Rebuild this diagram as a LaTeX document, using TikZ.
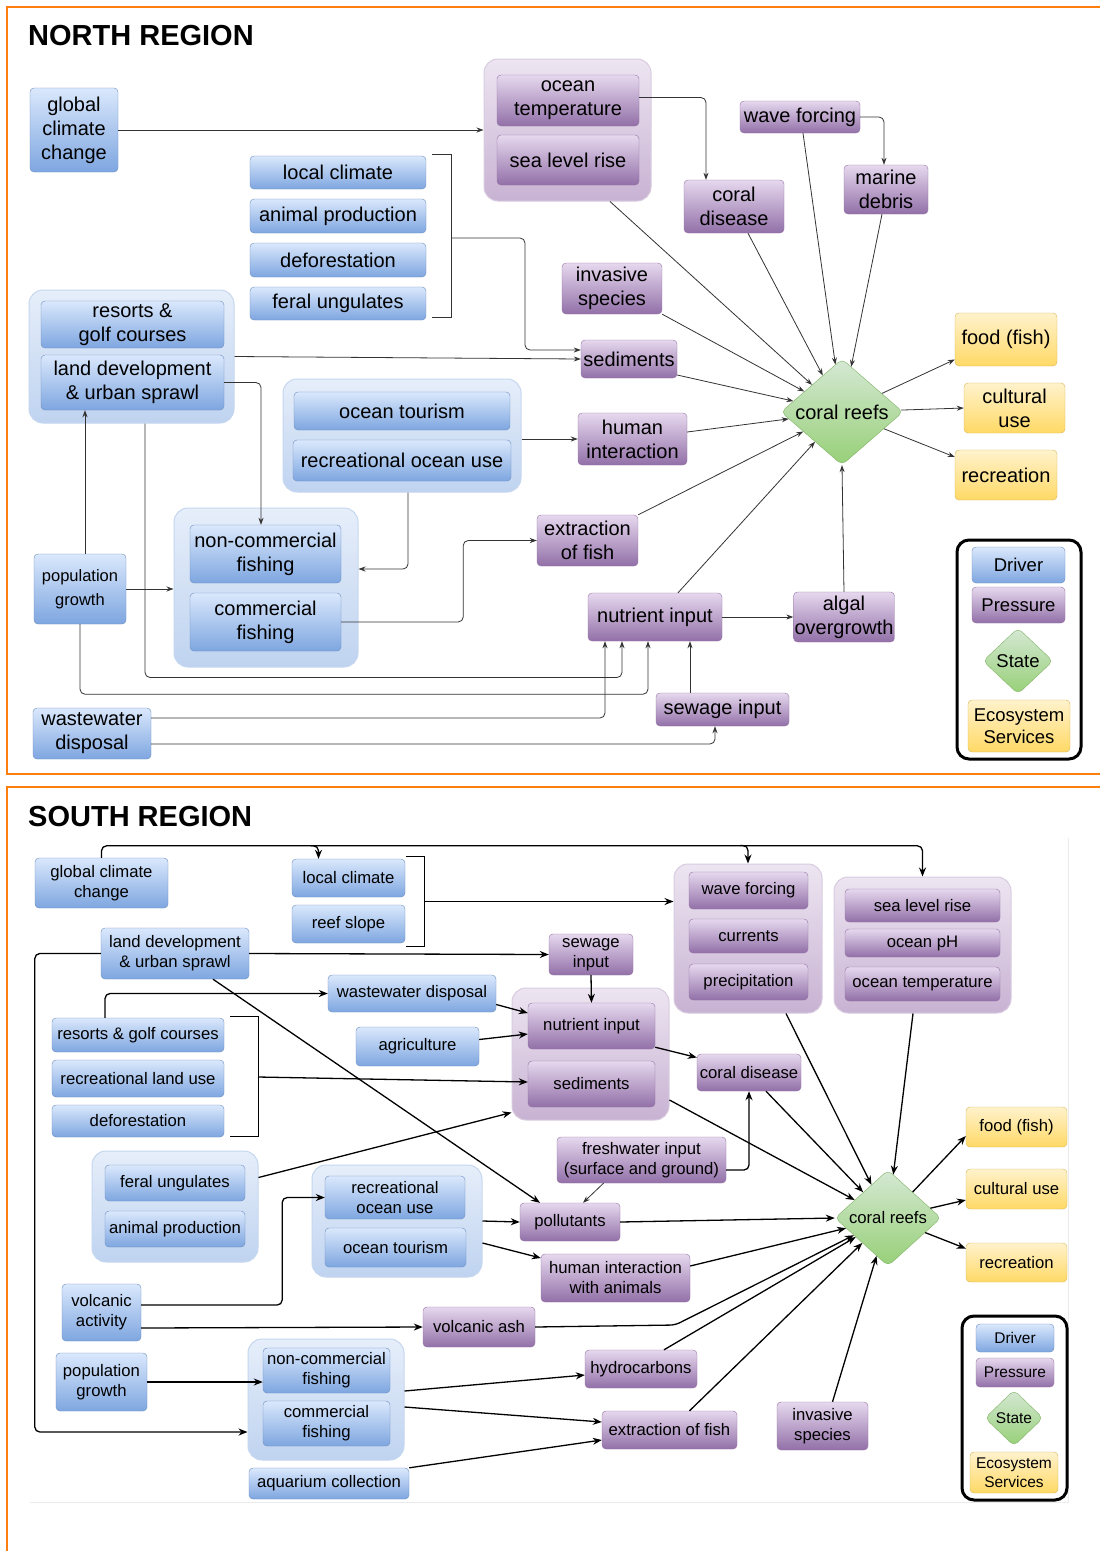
\documentclass[tikz,border=0pt]{standalone}
\usepackage{fontspec}
\setmainfont{Liberation Sans}
\usetikzlibrary{arrows.meta,shapes.geometric,calc}

\definecolor{drvTop}{HTML}{DAE8FC}
\definecolor{drvBot}{HTML}{7EA6E0}
\definecolor{drvLine}{HTML}{6C8EBF}
\definecolor{prTop}{HTML}{E6D8EE}
\definecolor{prBot}{HTML}{9270A8}
\definecolor{prLine}{HTML}{9673A6}
\definecolor{stTop}{HTML}{D5E8D4}
\definecolor{stBot}{HTML}{97D077}
\definecolor{stLine}{HTML}{82B366}
\definecolor{esTop}{HTML}{FFF2CC}
\definecolor{esBot}{HTML}{FFD966}
\definecolor{esLine}{HTML}{D6B656}
\definecolor{dgTop}{HTML}{E6EEFA}
\definecolor{dgBot}{HTML}{BFD3F0}
\definecolor{dgLine}{HTML}{C6D7F0}
\definecolor{pgTop}{HTML}{EDE5F1}
\definecolor{pgBot}{HTML}{C8B2D3}
\definecolor{pgLine}{HTML}{D9CCE0}
\definecolor{frameOr}{HTML}{FF7F0E}

\tikzset{
 box/.style={rounded corners=4pt, inner sep=1pt, align=center, text=black},
 drv/.style={box, draw=drvLine, top color=drvTop, bottom color=drvBot},
 prs/.style={box, draw=prLine, top color=prTop, bottom color=prBot},
 ess/.style={box, draw=esLine, top color=esTop, bottom color=esBot},
 stt/.style={shape=diamond, draw=stLine, top color=stTop, bottom color=stBot, inner sep=0pt, rounded corners=5pt},
 dgrp/.style={rounded corners=14pt, draw=dgLine, top color=dgTop, bottom color=dgBot, line width=1pt},
 pgrp/.style={rounded corners=14pt, draw=pgLine, top color=pgTop, bottom color=pgBot, line width=1pt},
 legbox/.style={draw=black, line width=3pt, rounded corners=12pt},
 nf/.style={font=\fontsize{20}{24}\selectfont},
 sf/.style={font=\fontsize{16.7}{20}\selectfont},
 lf/.style={font=\fontsize{18.5}{22.5}\selectfont},
 lsf/.style={font=\fontsize{15.5}{19}\selectfont},
 sz/.style 2 args={minimum width=#1, minimum height=#2},
 narr/.style={draw=black!80, line width=0.8pt, -{Stealth[length=7pt,width=5pt]}},
 nln/.style={draw=black!80, line width=0.8pt},
 sarr/.style={draw=black, line width=1.3pt, -{Stealth[length=9pt,width=7pt]}},
 sln/.style={draw=black, line width=1.3pt},
 rc/.style={rounded corners=5pt},
}

\begin{document}
\begin{tikzpicture}[x=1pt,y=-1pt]
\useasboundingbox (0,0) rectangle (1100,1551);
\fill[white] (0,0) rectangle (1100,1551);

% frames
\draw[frameOr, line width=2.5pt] (1100,7) -- (7,7) -- (7,774) -- (1100,774);
\draw[frameOr, line width=2.5pt] (1100,787) -- (7,787) -- (7,1551);
\draw[black!8, line width=1pt] (30,1502) -- (1068,1502) -- (1068,838);

\node[font=\fontsize{29}{32}\selectfont\bfseries, anchor=west, inner sep=0pt] (tN) at (28,36) {NORTH REGION};
\node[font=\fontsize{29}{32}\selectfont\bfseries, anchor=west, inner sep=0pt] (tS) at (28,817) {SOUTH REGION};

% ================= NORTH =================
\node[drv,nf,sz={88}{84}] (gcc) at (74,130) {global\\climate\\change};
\node[pgrp,sz={167}{142}] (ogrp) at (567.5,130) {};
\node[prs,nf,sz={142}{51}] (otemp) at (568,100.5) {ocean\\temperature};
\node[prs,nf,sz={142}{50}] (slr) at (568,160) {sea level rise};
\node[drv,nf,sz={176}{33}] (lc) at (338,172.5) {local climate};
\node[drv,nf,sz={176}{34}] (ap) at (338,216) {animal production};
\node[drv,nf,sz={176}{34}] (dfo) at (338,260) {deforestation};
\node[drv,nf,sz={176}{33}] (fu) at (338,303.5) {feral ungulates};
\node[prs,nf,sz={120}{32}] (wf) at (800,117) {wave forcing};
\node[prs,nf,sz={100}{53}] (cd) at (734,206.5) {coral\\disease};
\node[prs,nf,sz={84}{49}] (md) at (886,189.5) {marine\\debris};
\node[prs,nf,sz={100}{51}] (inv) at (612,288.5) {invasive\\species};
\node[prs,nf,sz={96}{38}] (sed) at (629,359) {sediments};
\node[dgrp,sz={205}{133}] (rgrp) at (131.5,356.5) {};
\node[drv,nf,sz={183}{47}] (rgc) at (132.5,324.5) {resorts \&\\golf courses};
\node[drv,nf,sz={183}{55}] (ld) at (132.5,382.5) {land development\\\& urban sprawl};
\node[dgrp,sz={238}{113}] (otgrp) at (402,435.5) {};
\node[drv,nf,sz={216}{38}] (ot) at (402,411) {ocean tourism};
\node[drv,nf,sz={218}{41}] (rou) at (402,460.5) {recreational ocean use};
\node[prs,nf,sz={109}{52}] (hi) at (632.5,439) {human\\interaction};
\node[stt,sz={122}{106}] (cr) at (842,412) {};
\node[nf] (crT) at (cr) {coral reefs};
\node[ess,nf,sz={102}{53}] (food) at (1006,339.5) {food (fish)};
\node[ess,nf,sz={101}{50}] (cu) at (1014.5,408) {cultural\\use};
\node[ess,nf,sz={102}{50}] (rec) at (1006,475) {recreation};
\node[prs,nf,sz={101}{51}] (ef) at (587.5,540.5) {extraction\\of fish};
\node[dgrp,sz={184}{159}] (fgrp) at (266,587.5) {};
\node[drv,nf,sz={151}{58}] (ncf) at (265.5,554) {non-commercial\\fishing};
\node[drv,nf,sz={151}{58}] (cf) at (265.5,622) {commercial\\fishing};
\node[drv,font=\fontsize{16.5}{24}\selectfont,sz={92}{70}] (pg) at (80,589) {population\\growth};
\node[prs,nf,sz={134}{48}] (ni) at (655,617) {nutrient input};
\node[prs,nf,sz={100}{50}] (ao) at (844,617) {algal\\overgrowth};
\node[prs,nf,sz={133}{33}] (si) at (722.5,709.5) {sewage input};
\node[drv,nf,sz={118}{51}] (wd) at (92,733.5) {wastewater\\disposal};

% legend north
\node[legbox,sz={124}{219}] (legN) at (1019,649.5) {};
\node[drv,lf,sz={93}{36}] (lgD) at (1018.5,565) {Driver};
\node[prs,lf,sz={93}{36}] (lgP) at (1018.5,605) {Pressure};
\node[stt,sz={70}{66}] (lgS) at (1018,661) {};
\node[lf] (lgST) at (lgS) {State};
\node[ess,lf,sz={102}{52}] (lgE) at (1019,726) {Ecosystem\\Services};

% north connectors
\draw[narr] (gcc.east) -- (ogrp.west);
\draw[narr,rc] ($(otemp.east)+(0,-3)$) -| ($(cd.north)+(-28,0)$);
\draw[narr,rc] (wf.east) -| ($(md.north)+(-2,0)$);
\draw[nln] ($(lc.north east)+(6,-1)$) -| ($(fu.south east)+(25,-3)$) -- ++(-19,0);
\coordinate (brN) at (451,238);
\draw[narr,rc] (brN) -- ++(74,0) |- ($(sed.west)+(0,-9)$);
\draw[narr] (rgrp.east) -- (sed.west);
\draw[narr] (otgrp.east |- hi.west) -- (hi.west);
\draw[narr,rc] (ld.east) -| ($(ncf.north)+(-4.5,0)$);
\draw[narr,rc] ($(otgrp.south)+(6,0)$) |- ($(fgrp.east)+(0,-18.5)$);
\draw[narr,rc] (cf.east) -- ++(122,0) |- (ef.west);
\draw[narr] (pg.east) -- (fgrp.west |- pg.east);
\coordinate (pgA) at ($(pg.north)+(5,0)$);
\draw[narr] (pgA) -- (pgA |- ld.south);
\draw[narr,rc] ($(rgrp.south)+(13.5,0)$) -- ++(0,254) -| ($(ni.south)+(-33,0)$);
\draw[narr,rc] (pg.south) -- ++(0,70) -| ($(ni.south)+(-7,0)$);
\draw[narr,rc] ($(wd.east)+(0,-15.5)$) -| ($(ni.south)+(-50,0)$);
\draw[narr,rc] ($(wd.east)+(0,10.5)$) -| ($(si.south)+(-7.5,0)$);
\coordinate (siA) at ($(si.north)+(-32.5,0)$);
\draw[narr] (siA) -- (siA |- ni.south);
\draw[narr] (ni.east) -- (ao.west);
\draw[narr] ($(ogrp.south)+(42.5,0)$) -- (cr);
\draw[narr] ($(cd.south)+(14,0)$) -- (cr);
\draw[narr] ($(wf.south)+(3,0)$) -- (cr);
\draw[narr] ($(md.south)+(-4,0)$) -- (cr);
\draw[narr] (inv.south east) -- (cr);
\draw[narr] ($(sed.east)+(0,16)$) -- (cr);
\draw[narr] ($(hi.east)+(0,-7)$) -- (cr);
\draw[narr] (ef.north east) -- (cr);
\draw[narr] ($(ni.north)+(23,0)$) -- (cr);
\draw[narr] (ao.north) -- (cr.south);
\draw[narr] (cr) -- ($(food.west)+(0,20)$);
\draw[narr] (cr) -- (cu.west);
\draw[narr] (cr) -- ($(rec.west)+(0,-18)$);

% ================= SOUTH =================
\node[drv,sf,sz={133}{50}] (Sgcc) at (101.5,883) {global climate\\change};
\node[drv,sf,sz={113}{38}] (Slc) at (348.5,878) {local climate};
\node[drv,sf,sz={113}{38}] (Srs) at (348.5,924) {reef slope};
\node[drv,sf,sz={148}{51}] (Sld) at (175,953.5) {land development\\\& urban sprawl};
\node[prs,sf,sz={84}{41}] (Ssi) at (591,954.5) {sewage\\input};
\node[drv,sf,sz={168}{37}] (Swd) at (412,993.5) {wastewater disposal};
\node[drv,sf,sz={172}{34}] (Srgc) at (138,1035) {resorts \& golf courses};
\node[drv,sf,sz={172}{37}] (Srlu) at (138,1078.5) {recreational land use};
\node[drv,sf,sz={172}{32}] (Sdf) at (138,1121) {deforestation};
\node[drv,sf,sz={123}{39}] (Sag) at (417.5,1046.5) {agriculture};
\node[pgrp,sz={157}{132}] (Sngrp) at (590.5,1054) {};
\node[prs,sf,sz={127}{46}] (Sni) at (591.5,1026) {nutrient input};
\node[prs,sf,sz={127}{46}] (Ssed) at (591.5,1084) {sediments};
\node[pgrp,sz={148}{149}] (Swgrp) at (748,938.5) {};
\node[prs,sf,sz={119}{37}] (Swf) at (748.5,890.5) {wave forcing};
\node[prs,sf,sz={119}{34}] (Scur) at (748.5,936) {currents};
\node[prs,sf,sz={119}{36}] (Spre) at (748.5,982) {precipitation};
\node[pgrp,sz={177}{136}] (Ssgrp) at (922.5,945) {};
\node[prs,sf,sz={155}{33}] (Sslr) at (922.5,905.5) {sea level rise};
\node[prs,sf,sz={155}{28}] (Sph) at (922.5,943) {ocean pH};
\node[prs,sf,sz={155}{34}] (Sot) at (922.5,984) {ocean temperature};
\node[prs,sf,sz={104}{37}] (Scd) at (749,1072.5) {coral disease};
\node[prs,sf,sz={169}{46}] (Sfw) at (641.5,1160) {freshwater input\\(surface and ground)};
\node[dgrp,sz={166}{111}] (Sfagrp) at (175,1206.5) {};
\node[drv,sf,sz={140}{36}] (Sfu) at (175,1183) {feral ungulates};
\node[drv,sf,sz={140}{36}] (Sap) at (175,1229) {animal production};
\node[dgrp,sz={170}{112}] (Srgrp) at (397,1221) {};
\node[drv,sf,sz={140}{43}] (Srou) at (395,1197.5) {recreational\\ocean use};
\node[drv,sf,sz={141}{39}] (Sot2) at (395.5,1247.5) {ocean tourism};
\node[drv,sf,sz={79}{57}] (Sva) at (101.5,1312.5) {volcanic\\activity};
\node[prs,sf,sz={100}{38}] (Spol) at (570,1222) {pollutants};
\node[prs,sf,sz={149}{48}] (Shi) at (615.5,1278) {human interaction\\with animals};
\node[prs,sf,sz={112}{40}] (Sash) at (479,1327) {volcanic ash};
\node[prs,sf,sz={112}{38}] (Shc) at (641,1369) {hydrocarbons};
\node[prs,sf,sz={135}{38}] (Sef) at (669.5,1430) {extraction of fish};
\node[prs,sf,sz={91}{48}] (Sinv) at (822.5,1426) {invasive\\species};
\node[dgrp,sz={156}{121}] (Sfgrp) at (326,1399.5) {};
\node[drv,sf,sz={127}{45}] (Sncf) at (326.5,1370.5) {non-commercial\\fishing};
\node[drv,sf,sz={127}{45}] (Scf) at (326.5,1423.5) {commercial\\fishing};
\node[drv,sf,sz={160}{31}] (Saq) at (329,1483.5) {aquarium collection};
\node[drv,sf,sz={91}{58}] (Spg) at (101.5,1382) {population\\growth};
\node[stt,sz={106}{96}] (Scr) at (888,1218) {};
\node[sf] (ScrT) at (Scr) {coral reefs};
\node[ess,sf,sz={101}{40}] (Sfood) at (1016.5,1127) {food (fish)};
\node[ess,sf,sz={101}{40}] (Scu) at (1016.5,1189) {cultural use};
\node[ess,sf,sz={101}{39}] (Srec) at (1016.5,1262.5) {recreation};

% legend south
\node[legbox,sz={105}{184}] (legS) at (1014.5,1408) {};
\node[drv,lsf,sz={78}{28}] (SlgD) at (1015,1338) {Driver};
\node[prs,lsf,sz={78}{29}] (SlgP) at (1015,1372.5) {Pressure};
\node[stt,sz={58}{56}] (SlgS) at (1014,1418) {};
\node[lsf] (SlgST) at (SlgS) {State};
\node[ess,lsf,sz={88}{41}] (SlgE) at (1014,1472.5) {Ecosystem\\Services};

% south connectors
\draw[sarr,rc] (Sgcc.north) -- ++(0,-12) -| (Ssgrp.north);
\draw[sarr,rc] ($(Slc.north)+(-38,-13)$) -| ($(Slc.north)+(-30,0)$);
\draw[sarr,rc] ($(Swgrp.north)+(-8,-18)$) -| (Swgrp.north);
\draw[sln] ($(Slc.north east)+(1,-2)$) -| ($(Srs.south east)+(19,3)$) -- ++(-18,0);
\coordinate (brS) at (424,901.5);
\draw[sarr] (brS) -- (Swgrp.west |- brS);
\draw[sarr] (Sld.east) -- (Ssi.west);
\draw[sarr,rc] (Sld.west) -- ++(-66,0) |- ($(Sfgrp.west)+(0,32.5)$);
\draw[sarr] ($(Sld.south)+(38,0)$) -- ($(Spol.north)+(-30,0)$);
\draw[sarr,rc] ($(Srgc.north)+(-33,0)$) |- (Swd.west);
\draw[sln] ($(Srgc.north east)+(6,-1)$) -| ($(Sdf.south east)+(34,-1)$) -- ++(-28,0);
\coordinate (brS2) at (258,1077);
\draw[sarr] (brS2) -- ($(Ssed.west)+(0,-2)$);
\draw[sarr] ($(Swd.east)+(0,11)$) -- ($(Sni.west)+(0,-13)$);
\draw[sarr] ($(Sag.east)+(0,-7)$) -- ($(Sni.west)+(0,8)$);
\draw[sarr] (Ssi.south) -- (Sni.north);
\draw[sarr] ($(Sni.south east)+(0,-2)$) -- ($(Scd.west)+(0,-15)$);
\draw[sarr] ($(Sfagrp.north east)+(0,27)$) -- ($(Sngrp.south west)+(0,-8)$);
\draw[sarr,rc] ($(Sfw.east)+(0,10)$) -| (Scd.south);
\draw[narr] ($(Sfw.south)+(-38,0)$) -- ($(Spol.north)+(13,0)$);
\draw[sarr] (Srgrp.east) -- (Spol.west);
\draw[sarr] ($(Srgrp.east)+(0,22)$) -- ($(Shi.west)+(0,-20)$);
\draw[sarr,rc] ($(Sva.east)+(0,-7.5)$) -- ++(141,0) |- (Srou.west);
\draw[sarr] ($(Sva.east)+(0,15.5)$) -- (Sash.west);
\draw[sarr] (Spg.east) -- (Sncf.west |- Spg.east);
\draw[sarr] ($(Sfgrp.east)+(0,-8.5)$) -- ($(Shc.west)+(0,6)$);
\draw[sarr] ($(Sfgrp.east)+(0,7.5)$) -- ($(Sef.west)+(0,-8)$);
\draw[sarr] (Saq.north east) -- ($(Sef.west)+(0,10)$);
\draw[sarr,rc] (Sash.east) -- ++(140,-2) -- (Scr);
\draw[sarr] ($(Shc.north)+(23,0)$) -- (Scr);
\draw[sarr] ($(Sef.north)+(20,0)$) -- (Scr);
\draw[sarr] ($(Sinv.north)+(10,0)$) -- (Scr);
\draw[sarr] ($(Shi.east)+(0,-12)$) -- (Scr);
\draw[sarr] (Spol.east) -- (Scr.west);
\draw[sarr] ($(Sngrp.east)+(0,46)$) -- (Scr);
\draw[sarr] ($(Scd.south)+(17,0)$) -- (Scr);
\draw[sarr] ($(Swgrp.south)+(38,0)$) -- (Scr);
\draw[sarr] ($(Ssgrp.south)+(-9.5,0)$) -- (Scr);
\draw[sarr] (Scr) -- ($(Sfood.west)+(0,9)$);
\draw[sarr] (Scr) -- ($(Scu.west)+(0,11)$);
\draw[sarr] (Scr) -- ($(Srec.west)+(0,-14)$);
\end{tikzpicture}
\end{document}
